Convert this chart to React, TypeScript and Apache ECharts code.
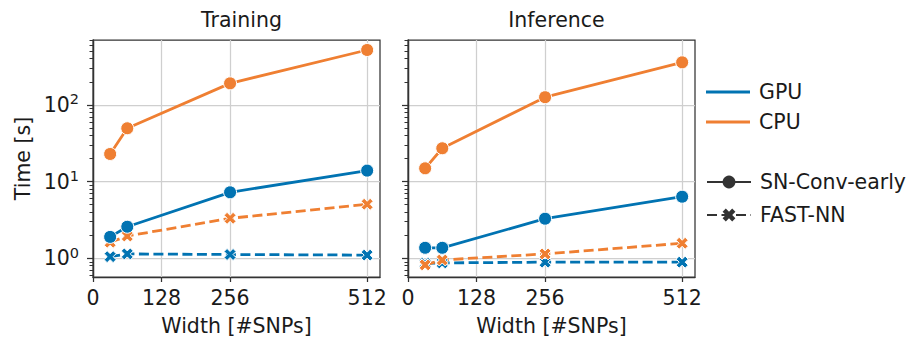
import React, { useEffect, useRef } from 'react';
import * as echarts from 'echarts';

const widths = [32, 64, 256, 512];
const xTicks = [0, 128, 256, 512];
const yTicks = [1, 10, 100];
const yMinorTicks = [0.6, 0.7, 0.8, 0.9, 2, 3, 4, 5, 6, 7, 8, 9, 20, 30, 40, 50, 60, 70, 80, 90, 200, 300, 400, 500, 600, 700];
const panelTitles = ['Training', 'Inference'];
const deviceNames = ['GPU', 'CPU'];
const modelNames = ['SN-Conv-early', 'FAST-NN'];

const trainGpuSn = [1.9, 2.58, 7.25, 13.9];
const trainCpuSn = [22.9, 49.6, 191, 520];
const trainGpuFast = [1.05, 1.14, 1.12, 1.1];
const trainCpuFast = [1.62, 1.95, 3.32, 5.06];

const inferGpuSn = [1.37, 1.37, 3.28, 6.35];
const inferCpuSn = [14.9, 27.2, 126, 359];
const inferGpuFast = [0.86, 0.87, 0.89, 0.89];
const inferCpuFast = [0.82, 0.95, 1.14, 1.57];

const BLUE = '#0173b2';
const ORANGE = '#ef7f32';
const DARK = '#333333';
const TEXT = '#1a1a1a';
const GRIDC = '#cfcfcf';
const FONT = 'DejaVu Sans';
const FS = 20.5;
const X_PATH = 'path://M-1,-2L0,-1L1,-2L2,-1L1,0L2,1L1,2L0,1L-1,2L-2,1L-1,0L-2,-1Z';

const panelData = [
  { gpuSn: trainGpuSn, cpuSn: trainCpuSn, gpuFast: trainGpuFast, cpuFast: trainCpuFast },
  { gpuSn: inferGpuSn, cpuSn: inferCpuSn, gpuFast: inferGpuFast, cpuFast: inferCpuFast },
];

const gridLefts = [93, 408];
const gridWidth = 287;
const gridTop = 40;
const gridHeight = 237;

export default function App() {
  const ref = useRef<HTMLDivElement>(null);
  useEffect(() => {
    if (!ref.current) return;
    const chart = echarts.init(ref.current, null, { renderer: 'svg' });

    const grids = gridLefts.map((l) => ({
      left: l,
      top: gridTop,
      width: gridWidth,
      height: gridHeight,
      show: true,
      borderColor: DARK,
      borderWidth: 1.25,
      backgroundColor: 'transparent',
    }));

    const xAxes = gridLefts.map((_, p) => ({
      type: 'value',
      gridIndex: p,
      min: 0,
      max: 536,
      axisLine: { show: true, lineStyle: { color: DARK, width: 1.25 } },
      axisTick: { show: true, length: 5, customValues: xTicks, lineStyle: { color: DARK, width: 1.25 } },
      axisLabel: { customValues: xTicks, fontSize: FS, color: TEXT, fontFamily: FONT, margin: 10 },
      splitLine: { show: true, lineStyle: { color: GRIDC, width: 1.25 } },
      name: 'Width [#SNPs]',
      nameLocation: 'middle',
      nameGap: 38,
      nameTextStyle: { fontSize: FS, color: TEXT, fontFamily: FONT },
    }));

    const yAxes: any[] = [];
    gridLefts.forEach((_, p) => {
      yAxes.push({
        type: 'log',
        logBase: 10,
        gridIndex: p,
        position: 'left',
        min: 0.57,
        max: 702,
        axisLine: { show: true, lineStyle: { color: DARK, width: 1.25 } },
        axisTick: { show: true, length: 6, customValues: yTicks, lineStyle: { color: DARK, width: 1.25 } },
        axisLabel: {
          show: p === 0,
          customValues: yTicks,
          margin: 14,
          formatter: (v: number) => `{b|10}{s|${Math.round(Math.log10(v))}}`,
          rich: {
            b: { fontSize: FS, color: TEXT, fontFamily: FONT, lineHeight: 26 },
            s: { fontSize: 14.5, color: TEXT, fontFamily: FONT, verticalAlign: 'top', lineHeight: 26 },
          },
        },
        splitLine: { show: true, lineStyle: { color: GRIDC, width: 1.25 } },
        minorTick: { show: false },
        minorSplitLine: { show: false },
        name: p === 0 ? 'Time [s]' : '',
        nameLocation: 'middle',
        nameGap: 60,
        nameTextStyle: { fontSize: FS, color: TEXT, fontFamily: FONT },
      });
      yAxes.push({
        type: 'log',
        logBase: 10,
        gridIndex: p,
        position: 'left',
        min: 0.57,
        max: 702,
        axisLine: { show: true, lineStyle: { color: DARK, width: 1.25 } },
        axisTick: { show: true, length: 3.5, customValues: yMinorTicks, lineStyle: { color: DARK, width: 1 } },
        axisLabel: { show: false },
        splitLine: { show: false },
      });
    });

    const mk = (name: string, data: number[], p: number, color: string, fast: boolean) => ({
      name,
      type: 'line',
      xAxisIndex: p,
      yAxisIndex: p * 2,
      data: widths.map((w, i) => [w, data[i]]),
      symbol: fast ? X_PATH : 'circle',
      symbolSize: fast ? 12 : 13,
      showSymbol: true,
      lineStyle: { color, width: 2.8, type: fast ? [10, 4.5] : 'solid' },
      itemStyle: { color, borderColor: '#ffffff', borderWidth: 1 },
      emphasis: { disabled: true },
      z: 3,
    });

    const series: any[] = [];
    panelData.forEach((d, p) => {
      series.push(mk(`GPU FAST-NN ${panelTitles[p]}`, d.gpuFast, p, BLUE, true));
      series.push(mk(`CPU FAST-NN ${panelTitles[p]}`, d.cpuFast, p, ORANGE, true));
      series.push(mk(`GPU SN-Conv-early ${panelTitles[p]}`, d.gpuSn, p, BLUE, false));
      series.push(mk(`CPU SN-Conv-early ${panelTitles[p]}`, d.cpuSn, p, ORANGE, false));
    });

    // legend-only series
    [BLUE, ORANGE].forEach((c, i) => {
      series.push({
        name: deviceNames[i], type: 'line', xAxisIndex: 0, yAxisIndex: 0, data: [],
        symbol: 'none', lineStyle: { color: c, width: 3 }, itemStyle: { color: c },
      });
    });
    modelNames.forEach((n, i) => {
      series.push({
        name: n, type: 'line', xAxisIndex: 0, yAxisIndex: 0, data: [],
        symbol: i === 0 ? 'circle' : X_PATH,
        lineStyle: { color: DARK, width: 3, type: i === 0 ? 'solid' : [10, 4.5] },
        itemStyle: { color: DARK },
      });
    });

    const legendText = { fontSize: FS, color: TEXT, fontFamily: FONT, lineHeight: 22, padding: [0, 0, 0, 4] };

    chart.setOption({
      animation: false,
      backgroundColor: '#ffffff',
      title: panelTitles.map((t, p) => ({
        text: t,
        left: gridLefts[p] + gridWidth / 2,
        top: 4,
        textAlign: 'center',
        textStyle: { fontSize: FS, fontWeight: 'normal', color: TEXT, fontFamily: FONT },
      })),
      grid: grids,
      xAxis: xAxes,
      yAxis: yAxes,
      legend: [
        {
          data: deviceNames.map((n) => ({ name: n, icon: 'rect' })),
          orient: 'vertical',
          left: 701,
          top: 76,
          itemWidth: 44,
          itemHeight: 3,
          itemGap: 8,
          selectedMode: false,
          textStyle: legendText,
        },
        {
          data: modelNames,
          orient: 'vertical',
          left: 701,
          top: 166,
          itemWidth: 44,
          itemHeight: 16,
          itemGap: 11,
          selectedMode: false,
          itemStyle: { borderWidth: 0 },
          textStyle: legendText,
        },
      ],
      series,
    });
    return () => chart.dispose();
  }, []);
  return <div ref={ref} style={{ position: 'fixed', left: 0, top: 0, width: 910, height: 343 }} />;
}
